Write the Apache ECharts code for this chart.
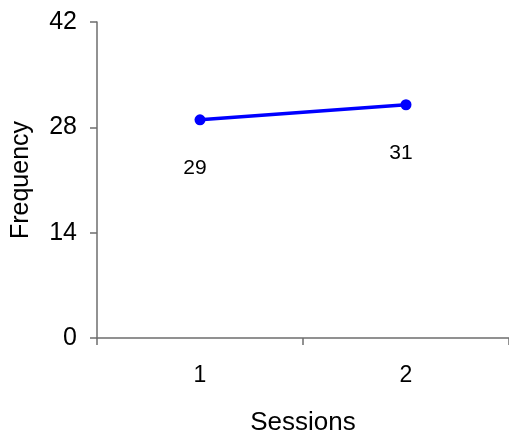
<!DOCTYPE html>
<html>
<head>
<meta charset="utf-8">
<script src="https://cdn.jsdelivr.net/npm/echarts@6/dist/echarts.min.js"></script>
<style>html,body{margin:0;padding:0;background:#fff;}#c{width:509px;height:436px;}</style>
</head>
<body>
<div id="c"></div>
<script>
const categories = ['1', '2'];
const frequency = [29, 31];
const yTicks = [0, 14, 28, 42];

const chart = echarts.init(document.getElementById('c'), null, {renderer: 'canvas'});
const font = 'Liberation Sans, Arial, sans-serif';
const axisColor = '#6e6e6e';
chart.setOption({
  animation: false,
  backgroundColor: '#ffffff',
  grid: {left: 97, top: 22, right: 0, bottom: 98, containLabel: false, outerBoundsMode: 'none'},
  xAxis: {
    type: 'category',
    data: categories,
    boundaryGap: true,
    name: 'Sessions',
    nameLocation: 'middle',
    nameGap: 72,
    nameTextStyle: {fontFamily: font, fontSize: 26, color: '#000'},
    axisLine: {lineStyle: {color: axisColor, width: 1.5}},
    axisTick: {show: true, inside: false, length: 7, lineStyle: {color: axisColor, width: 1.5}},
    axisLabel: {fontFamily: font, fontSize: 23, color: '#000', margin: 26},
    splitLine: {show: false}
  },
  yAxis: {
    type: 'value',
    min: yTicks[0],
    max: yTicks[yTicks.length - 1],
    interval: yTicks[1] - yTicks[0],
    name: 'Frequency',
    nameLocation: 'middle',
    nameGap: 63,
    nameTextStyle: {fontFamily: font, fontSize: 25, color: '#000'},
    axisLine: {show: true, lineStyle: {color: axisColor, width: 1.5}},
    axisTick: {show: true, inside: false, length: 7, lineStyle: {color: axisColor, width: 1.5}},
    axisLabel: {fontFamily: font, fontSize: 25, color: '#000', margin: 20},
    splitLine: {show: false}
  },
  series: [{
    type: 'line',
    data: frequency,
    symbol: 'circle',
    symbolSize: 11,
    itemStyle: {color: '#0000ff'},
    lineStyle: {color: '#0000ff', width: 3.5},
    label: {
      show: true,
      position: 'bottom',
      distance: 32,
      offset: [-5, 0],
      fontFamily: font,
      fontSize: 21,
      color: '#000'
    }
  }]
});
</script>
</body>
</html>
